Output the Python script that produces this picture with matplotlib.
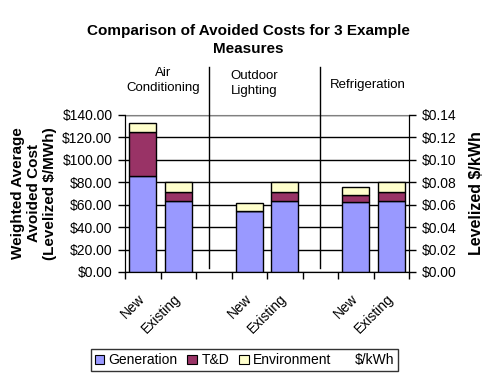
import numpy as np
import matplotlib
matplotlib.use('Agg')
import matplotlib.pyplot as plt
import matplotlib.transforms as mtransforms
from matplotlib.patches import Patch

plt.rcParams['font.family'] = ['Liberation Sans', 'DejaVu Sans']

#Bar data ($/MWh), empty slots between the three measure groups
slots = [0, 1, 3, 4, 6, 7]
barLabels = ['New', 'Existing', 'New', 'Existing', 'New', 'Existing']
generation = [86, 63, 54, 63, 62, 63]
tnd = [38.5, 8, 0, 8, 6.5, 8]
environment = [8, 9, 7.5, 9, 7, 9]

groupNames = ['Air\nConditioning', 'Outdoor\nLighting', 'Refrigeration']
groupCentres = [0.57, 3.15, 6.35]
groupLabelY = [1.22, 1.2, 1.19]
separators = [1.875, 5.0]

genColour = '#9999FF'
tndColour = '#993366'
envColour = '#FFFFCC'

fig = plt.figure(figsize=(5.01, 3.82), dpi=100)
ax = fig.add_axes([0.2495, 0.288, 0.567, 0.411])

x = np.array(slots)
gen = np.array(generation)
td = np.array(tnd)
env = np.array(environment)
w = 0.76
ax.bar(x, gen, w, color=genColour, edgecolor='black', linewidth=1, zorder=3)
ax.bar(x, td, w, bottom=gen, color=tndColour, edgecolor='black', linewidth=1, zorder=3)
ax.bar(x, env, w, bottom=gen + td, color=envColour, edgecolor='black', linewidth=1, zorder=3)

ax.set_xlim(-0.5, 7.5)
ax.set_ylim(0, 140)
ax.set_yticks(np.arange(0, 141, 20))
ax.set_yticklabels(['$%.2f' % v for v in np.arange(0, 141, 20)], fontsize=10)
ax.yaxis.grid(True, color='black', linewidth=1, zorder=0)
ax.set_axisbelow(True)

#tick marks at slot boundaries, labels under the bars
ax.set_xticks(np.arange(-0.5, 8, 1))
ax.set_xticklabels([])
ax.set_xticks(x, minor=True)
ax.set_xticklabels(barLabels, minor=True, rotation=45, ha='right', va='top',
                   rotation_mode='anchor', fontsize=10)
ax.tick_params(axis='x', which='minor', length=0, pad=14)
ax.tick_params(axis='x', which='major', length=5, width=1, direction='out')
ax.tick_params(axis='y', length=5, width=1, direction='out', pad=4)
shift = mtransforms.ScaledTranslation(-5 / 100, 0, fig.dpi_scale_trans)
for lab in ax.get_xticklabels(minor=True):
    lab.set_transform(lab.get_transform() + shift)

for s in ['left', 'bottom', 'right']:
    ax.spines[s].set_color('black')
ax.spines['top'].set_color('#808080')

ax.set_ylabel('Weighted Average\nAvoided Cost\n(Levelized $/MWh)', fontsize=11,
              fontweight='bold', labelpad=4, linespacing=1.15)

ax2 = ax.twinx()
ax2.set_ylim(0, 0.14)
ax2.set_yticks(np.arange(0, 0.141, 0.02))
ax2.set_yticklabels(['$%.2f' % v for v in np.arange(0, 0.141, 0.02)], fontsize=10)
ax2.tick_params(axis='y', length=5, width=1, direction='out', pad=4)
ax2.spines['top'].set_visible(False)
ax2.set_ylabel('Levelized $/kWh', fontsize=11.5, fontweight='bold', labelpad=9)

#group separators and names
for sx in separators:
    ax.plot([sx, sx], [3.5, 183], color='black', linewidth=1, clip_on=False, zorder=4)
trans = mtransforms.blended_transform_factory(ax.transData, ax.transAxes)
for name, gx, gy in zip(groupNames, groupCentres, groupLabelY):
    ax.text(gx, gy, name, transform=trans, ha='center', va='center', fontsize=9.5,
            linespacing=1.4)

fig.text(0.496, 0.895, 'Comparison of Avoided Costs for 3 Example\nMeasures',
         ha='center', va='center', fontsize=11, fontweight='bold', linespacing=1.3)

handles = [Patch(facecolor=genColour, edgecolor='black', linewidth=0.8),
           Patch(facecolor=tndColour, edgecolor='black', linewidth=0.8),
           Patch(facecolor=envColour, edgecolor='black', linewidth=0.8),
           Patch(facecolor='none', edgecolor='none')]
leg = fig.legend(handles, ['Generation', 'T&D', 'Environment', '$/kWh'],
                 loc='center', bbox_to_anchor=(0.488, 0.057), ncol=4, fontsize=10,
                 frameon=True, fancybox=False, edgecolor='black', handlelength=0.7,
                 handleheight=0.7, handletextpad=0.3, columnspacing=0.7,
                 borderpad=0.3, borderaxespad=0)
leg.get_frame().set_linewidth(1)

fig.savefig('out.png', dpi=100)
